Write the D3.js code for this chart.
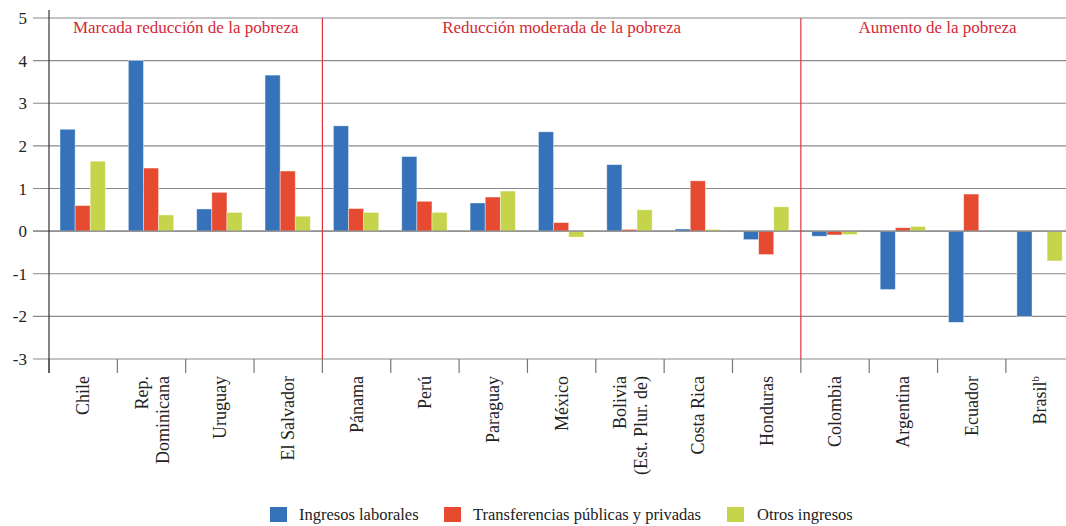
<!DOCTYPE html>
<html>
<head>
<meta charset="utf-8">
<script src="https://cdn.jsdelivr.net/npm/d3@7"></script>
<style>
  body { margin: 0; background: #fff; }
  svg { display: block; font-family: "Liberation Serif", "DejaVu Serif", serif; }
</style>
</head>
<body>
<svg id="chart" width="1066" height="526"></svg>
<script>
// Categories (countries), line breaks marked with "|"
const countries = ["Chile", "Rep.|Dominicana", "Uruguay", "El Salvador", "Pánama", "Perú", "Paraguay",
    "México", "Bolivia|(Est. Plur. de)", "Costa Rica", "Honduras", "Colombia", "Argentina", "Ecuador", "Brasil"];

const seriesNames = ["Ingresos laborales", "Transferencias públicas y privadas", "Otros ingresos"];
const seriesColors = ["#3672b9", "#e64b32", "#c5d44a"];

const laborales      = [2.39, 4.00, 0.52, 3.66, 2.47, 1.75, 0.66, 2.33, 1.56, 0.05, -0.20, -0.12, -1.37, -2.14, -2.00];
const transferencias = [0.60, 1.48, 0.91, 1.41, 0.53, 0.70, 0.80, 0.20, 0.04, 1.18, -0.55, -0.09, 0.08, 0.87, 0.00];
const otros          = [1.64, 0.38, 0.44, 0.35, 0.44, 0.44, 0.94, -0.14, 0.50, 0.04, 0.57, -0.08, 0.11, 0.00, -0.70];

const yTicks = [5, 4, 3, 2, 1, 0, -1, -2, -3];

// Groups of countries: label, first index, last index
const groups = [
    { label: "Marcada reducción de la pobreza", from: 0, to: 3 },
    { label: "Reducción moderada de la pobreza", from: 4, to: 10 },
    { label: "Aumento de la pobreza", from: 11, to: 14 }
];

const svg = d3.select("#chart");
const left = 49, bandW = 68.35;
const x = d3.scaleBand()
    .domain(d3.range(countries.length))
    .range([left, left + bandW * countries.length])
    .paddingInner(0).paddingOuter(0);
const y = d3.scaleLinear().domain([-3, 5]).range([359, 18]);

const xSub = d3.scaleBand()
    .domain(d3.range(3))
    .range([11, bandW - 12]);

// grid lines
svg.append("g")
    .selectAll("line")
    .data(yTicks)
    .join("line")
    .attr("x1", 33).attr("x2", 1066)
    .attr("y1", d => y(d)).attr("y2", d => y(d))
    .attr("stroke", "#8a8a8a").attr("stroke-width", 1.2);

// y labels
svg.append("g")
    .selectAll("text")
    .data(yTicks)
    .join("text")
    .attr("x", 27).attr("y", d => y(d) + 6)
    .attr("text-anchor", "end")
    .attr("font-size", 17)
    .attr("fill", "#222")
    .text(d => d);

// category tick marks below the baseline
svg.append("g")
    .selectAll("line")
    .data(d3.range(countries.length + 1))
    .join("line")
    .attr("x1", i => left + i * bandW).attr("x2", i => left + i * bandW)
    .attr("y1", y(-3)).attr("y2", y(-3) + 14)
    .attr("stroke", "#777").attr("stroke-width", 1.2);

// bars
const data = [laborales, transferencias, otros];
const g = svg.append("g");
data.forEach((vals, s) => {
    g.selectAll(".b" + s)
        .data(vals)
        .join("rect")
        .attr("class", "b" + s)
        .attr("x", (d, i) => x(i) + xSub(s))
        .attr("width", xSub.bandwidth())
        .attr("y", d => y(Math.max(0, d)))
        .attr("height", d => Math.abs(y(d) - y(0)))
        .attr("fill", seriesColors[s])
        .attr("stroke", "#fff").attr("stroke-opacity", 0.5).attr("stroke-width", 0.8);
});

// zero line over bars
svg.append("line")
    .attr("x1", 33).attr("x2", 1066)
    .attr("y1", y(0)).attr("y2", y(0))
    .attr("stroke", "#8a8a8a").attr("stroke-width", 1.2);

// left axis
svg.append("line")
    .attr("x1", left).attr("x2", left)
    .attr("y1", 10).attr("y2", y(-3) + 14)
    .attr("stroke", "#333").attr("stroke-width", 1.2);

// red separators
groups.slice(1).forEach(gr => {
    svg.append("line")
        .attr("x1", x(gr.from)).attr("x2", x(gr.from))
        .attr("y1", y(5)).attr("y2", y(-3))
        .attr("stroke", "#e0333c").attr("stroke-width", 1.2);
});

// group labels
svg.append("g")
    .selectAll("text")
    .data(groups)
    .join("text")
    .attr("x", d => (x(d.from) + x(d.to) + bandW) / 2)
    .attr("y", 33)
    .attr("text-anchor", "middle")
    .attr("font-size", 17)
    .attr("fill", "#d32a35")
    .text(d => d.label);

// country labels, rotated
const lab = svg.append("g")
    .selectAll("text")
    .data(countries)
    .join("text")
    .attr("text-anchor", "end")
    .attr("font-size", 18)
    .attr("fill", "#222")
    .attr("transform", (d, i) => {
        const lines = d.split("|").length;
        const cx = x(i) + bandW / 2 + 6 - (lines - 1) * 10;
        return `translate(${cx},376) rotate(-90)`;
    });
lab.each(function (d) {
    const t = d3.select(this);
    if (d === "Brasil") {
        // superscript b for Brasil
        t.append("tspan").text("Brasil");
        t.append("tspan").attr("font-size", 11).attr("dy", -7).text("b");
        return;
    }
    d.split("|").forEach((p, k) => {
        t.append("tspan")
            .attr("x", 0).attr("dy", k === 0 ? 0 : 21)
            .text(p);
    });
});

// legend
const legendX = [270, 444, 727];
const legend = svg.append("g")
    .selectAll("g")
    .data(seriesNames)
    .join("g")
    .attr("transform", (d, i) => `translate(${legendX[i]},507)`);
legend.append("rect")
    .attr("width", 17).attr("height", 15)
    .attr("fill", (d, i) => seriesColors[i]);
legend.append("text")
    .attr("x", (d, i) => [29, 29, 30][i]).attr("y", 13)
    .attr("font-size", 16.5)
    .attr("fill", "#222")
    .text(d => d);
</script>
</body>
</html>
